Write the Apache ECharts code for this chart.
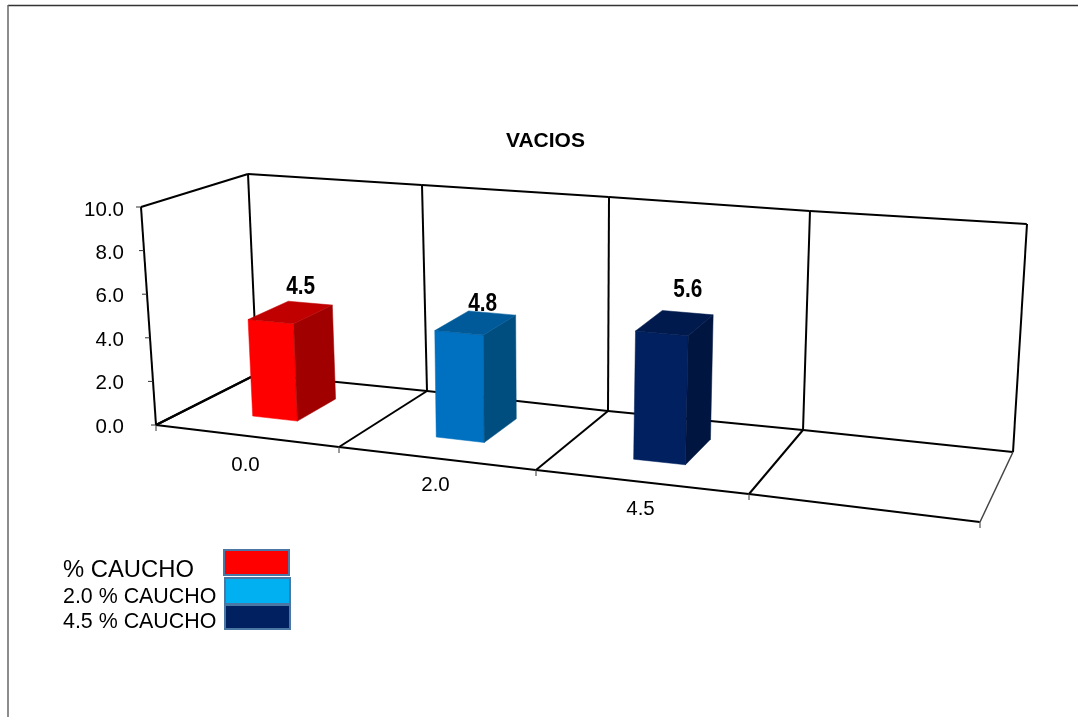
<!DOCTYPE html>
<html>
<head>
<meta charset="utf-8">
<style>html,body{margin:0;padding:0;background:#fff}#chart{width:1078px;height:717px}</style>
<script src="https://cdn.jsdelivr.net/npm/echarts@6/dist/echarts.min.js"></script>
</head>
<body>
<div id="chart"></div>
<script>
// Chart data
const categories = ['0.0', '2.0', '4.5', ''];
const voidValues = [4.5, 4.8, 5.6];
const legendNames = ['% CAUCHO', '2.0 % CAUCHO', '4.5 % CAUCHO'];
const yTicks = [0, 2, 4, 6, 8, 10];

// Bar colours: lit front, shaded side, top, and the legend swatch
const frontColors = ['#FF0000', '#0070C0', '#002060'];
const sideColors = ['#A00000', '#004E80', '#00153F'];
const topColors = ['#C00000', '#005A99', '#001A4D'];
const swatchColors = ['#FF0000', '#00B0F0', '#002060'];

// Camera calibration: where the box edges land on screen at each category boundary
const floorFront = [[156, 425], [339, 447], [536, 470], [749, 494], [980, 522]];
const floorBack = [[257, 374], [427, 391], [608, 411], [803, 430], [1013, 452]];
const wallBackTop = [[248, 174], [422, 185], [609, 197], [810, 211], [1027, 224]];
const FRONT_SCALE = 1.09;
const wallFrontTop = floorFront.map((p, i) => i === 0 ? [141, 207] : [
  p[0] + FRONT_SCALE * (wallBackTop[i][0] - floorBack[i][0]),
  p[1] + FRONT_SCALE * (wallBackTop[i][1] - floorBack[i][1])
]);

const lerp = (a, b, t) => [a[0] + (b[0] - a[0]) * t, a[1] + (b[1] - a[1]) * t];

// u: position along categories (0-4), v: height fraction (0-1), z: depth (0 front, 1 back)
function project(u, v, z) {
  const i = Math.min(Math.floor(u), 3);
  const t = u - i;
  const bottom = lerp(lerp(floorFront[i], floorFront[i + 1], t), lerp(floorBack[i], floorBack[i + 1], t), z);
  const top = lerp(lerp(wallFrontTop[i], wallFrontTop[i + 1], t), lerp(wallBackTop[i], wallBackTop[i + 1], t), z);
  return lerp(bottom, top, v);
}

const BAR_U = [-0.14, 0.11];     // bar extent around the slot centre
const BAR_Z = [0.32, 0.73];      // bar extent in depth
const valueLabelOffset = [[10, -26], [7, -19], [13, -33]];
const categoryLabelDrop = [29, 27, 27, 27];
const BLACK = '#000';

function line(a, b, width, color) {
  return {
    type: 'line',
    shape: { x1: a[0], y1: a[1], x2: b[0], y2: b[1] },
    style: { stroke: color || BLACK, lineWidth: width || 2 }
  };
}

// Walls, floor, divider lines, ticks and category labels
function renderBox(params, api) {
  if (params.dataIndex !== 0) return null;
  const cs = params.coordSys;
  const els = [];
  const n = categories.length;
  // Left wall and outer edges
  els.push(line(project(0, 0, 0), project(0, 1, 0)));
  els.push(line(project(0, 1, 0), project(0, 1, 1)));
  els.push(line(project(0, 0, 0), project(0, 0, 1)));
  for (let i = 0; i < n; i++) {
    els.push(line(project(i, 1, 1), project(i + 0.999, 1, 1)));
    els.push(line(project(i, 0, 1), project(i + 0.999, 0, 1)));
    els.push(line(project(i, 0, 0), project(i + 0.999, 0, 0)));
  }
  for (let i = 0; i <= n; i++) {
    els.push(line(project(i, 0, 1), project(i, 1, 1)));
    els.push(line(project(i, 0, 0), project(i, 0, 1), i === n ? 1.5 : 2, i === n ? '#444' : BLACK));
    const f = project(i, 0, 0);
    els.push(line(f, [f[0], f[1] + 6], 1, '#333'));
  }
  // Value ticks on the front-left edge
  yTicks.forEach(function (t) {
    const v = (cs.y + cs.height - api.coord([0, t])[1]) / cs.height;
    const p = project(0, v, 0);
    els.push(line([p[0] - 5, p[1]], p, 1, '#333'));
  });
  // Category labels sit below the front floor edge
  categories.forEach(function (c, i) {
    const u = (api.coord([i, 0])[0] - cs.x) / cs.width * n;
    const p = project(u, 0, 0);
    els.push({
      type: 'text',
      style: {
        x: p[0] - 2, y: p[1] + categoryLabelDrop[i], text: c, fill: BLACK,
        font: '20.5px "Liberation Sans", Arial, sans-serif',
        align: 'center', verticalAlign: 'middle'
      }
    });
  });
  return { type: 'group', children: els };
}

// One three-faced prism per value
function renderBar(params, api) {
  const i = api.value(0);
  const val = api.value(1);
  const cs = params.coordSys;
  const n = categories.length;
  const uc = (api.coord([i, 0])[0] - cs.x) / cs.width * n;
  const v = (cs.y + cs.height - api.coord([i, val])[1]) / cs.height;
  const u0 = uc + BAR_U[0], u1 = uc + BAR_U[1];
  const z0 = BAR_Z[0], z1 = BAR_Z[1];
  const poly = (pts, fill) => ({
    type: 'polygon',
    shape: { points: pts },
    style: { fill: fill, stroke: fill, lineWidth: 0.5 }
  });
  const topCentre = project((u0 + u1) / 2, v, (z0 + z1) / 2);
  const off = valueLabelOffset[i];
  return {
    type: 'group',
    children: [
      poly([project(u0, 0, z0), project(u1, 0, z0), project(u1, v, z0), project(u0, v, z0)], frontColors[i]),
      poly([project(u1, 0, z0), project(u1, 0, z1), project(u1, v, z1), project(u1, v, z0)], sideColors[i]),
      poly([project(u0, v, z0), project(u1, v, z0), project(u1, v, z1), project(u0, v, z1)], topColors[i]),
      {
        // Condensed bold value label
        type: 'text',
        x: topCentre[0] + off[0], y: topCentre[1] + off[1],
        scaleX: 0.8, scaleY: 1,
        style: {
          x: 0, y: 0,
          text: val.toFixed(1), fill: BLACK,
          font: 'bold 26px "Liberation Sans", Arial, sans-serif',
          align: 'center', verticalAlign: 'middle'
        }
      }
    ]
  };
}

// Hand-placed legend: labels on the left, outlined swatches on the right
const legendY = [570, 597, 622];
const legendFont = [23.8, 21.4, 21.4];
const swatchBox = [[224, 550, 65, 25], [225, 578, 65, 26], [225, 605, 65, 24]];
const legendGraphics = [];
legendNames.forEach(function (name, i) {
  legendGraphics.push({
    type: 'text', x: 63, y: legendY[i], z: 10,
    style: {
      text: name, fill: BLACK,
      font: legendFont[i] + 'px "Liberation Sans", Arial, sans-serif',
      verticalAlign: 'middle', align: 'left'
    }
  });
});
swatchBox.forEach(function (b, i) {
  legendGraphics.push({
    type: 'rect', z: 10,
    shape: { x: b[0], y: b[1], width: b[2], height: b[3] },
    style: { fill: swatchColors[i], stroke: '#4A77A3', lineWidth: 2 }
  });
});

const chart = echarts.init(document.getElementById('chart'), null, { renderer: 'canvas' });
chart.setOption({
  animation: false,
  backgroundColor: '#fff',
  title: {
    text: 'VACIOS',
    left: 501, top: 126,
    textStyle: { fontSize: 21, fontWeight: 'bold', color: BLACK, fontFamily: '"Liberation Sans", Arial, sans-serif' }
  },
  grid: { left: 130, right: 50, top: 210, bottom: 290 },
  xAxis: {
    type: 'category',
    data: categories,
    axisLine: { show: false },
    axisTick: { show: false },
    axisLabel: { show: false },
    splitLine: { show: false }
  },
  yAxis: {
    type: 'value',
    min: 0, max: 10, interval: 2,
    axisLine: { show: false },
    axisTick: { show: false },
    splitLine: { show: false },
    axisLabel: {
      margin: 6,
      color: BLACK,
      fontSize: 20.5,
      fontFamily: '"Liberation Sans", Arial, sans-serif',
      formatter: (v) => v.toFixed(1)
    }
  },
  series: [
    {
      type: 'custom', name: 'box', coordinateSystem: 'cartesian2d', z: 1, silent: true,
      renderItem: renderBox, data: [[0, 0]], clip: false
    },
    {
      type: 'custom', name: 'VACIOS', coordinateSystem: 'cartesian2d', z: 2, silent: true,
      renderItem: renderBar,
      encode: { x: 0, y: 1 },
      data: voidValues.map((v, i) => [i, v]), clip: false
    }
  ],
  graphic: [
    { type: 'line', silent: true, shape: { x1: 8, y1: 5.5, x2: 1078, y2: 5.5 }, style: { stroke: '#333', lineWidth: 1.5 } },
    { type: 'line', silent: true, shape: { x1: 8, y1: 5, x2: 8, y2: 717 }, style: { stroke: '#666', lineWidth: 1.5 } }
  ].concat(legendGraphics)
});
</script>
</body>
</html>
